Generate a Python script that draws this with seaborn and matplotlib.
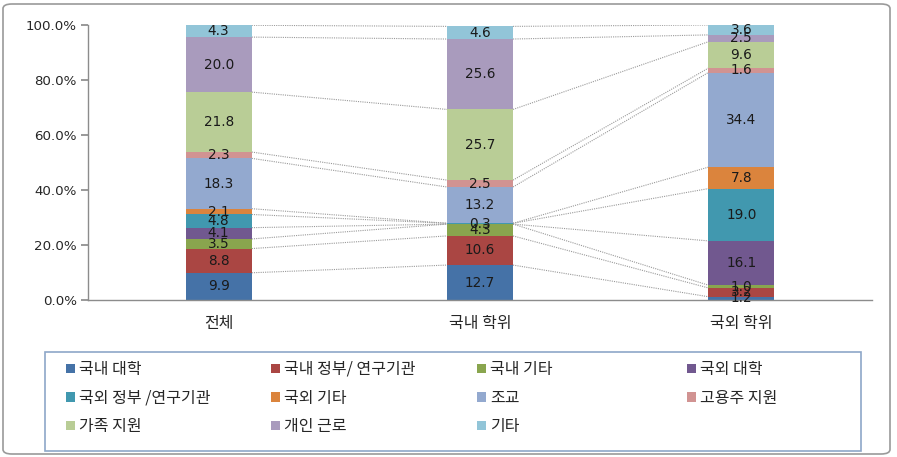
import matplotlib
matplotlib.use("Agg")
import matplotlib.pyplot as plt
import seaborn as sns
import numpy as np
import pandas as pd
from matplotlib.patches import Patch, FancyBboxPatch, Rectangle

categories = ["전체", "국내 학위", "국외 학위"]
series_names = ["국내 대학", "국내 정부/ 연구기관", "국내 기타", "국외 대학",
                "국외 정부 /연구기관", "국외 기타", "조교", "고용주 지원",
                "가족 지원", "개인 근로", "기타"]
s_dom_univ = [9.9, 12.7, 1.2]
s_dom_gov = [8.8, 10.6, 3.2]
s_dom_etc = [3.5, 4.3, 1.0]
s_for_univ = [4.1, 0.0, 16.1]
s_for_gov = [4.8, 0.3, 19.0]
s_for_etc = [2.1, 0.0, 7.8]
s_ta = [18.3, 13.2, 34.4]
s_employer = [2.3, 2.5, 1.6]
s_family = [21.8, 25.7, 9.6]
s_work = [20.0, 25.6, 2.5]
s_other = [4.3, 4.6, 3.6]
series_values = [s_dom_univ, s_dom_gov, s_dom_etc, s_for_univ, s_for_gov,
                 s_for_etc, s_ta, s_employer, s_family, s_work, s_other]
ytick_labels = ["0.0%", "20.0%", "40.0%", "60.0%", "80.0%", "100.0%"]

colors = ["#4572A7", "#AA4643", "#89A54E", "#71588F", "#4198AF", "#DB843D",
          "#93A9CF", "#D19392", "#B9CD96", "#A99BBD", "#92C5D8"]

sns.set_theme(style="white")
plt.rcParams['font.family'] = ['Noto Sans CJK KR', 'DejaVu Sans']

W, H = 897, 457
fig = plt.figure(figsize=(W/100, H/100), dpi=100)
ax = fig.add_axes([88/W, 1-300/H, (872-88)/W, (300-25)/H])

bar_w = 0.253
bottoms = np.zeros(len(categories))
cums = [bottoms.copy()]
for name, vals, col in zip(series_names, series_values, colors):
    df = pd.DataFrame({"cat": categories, "val": vals})
    sns.barplot(data=df, x="cat", y="val", order=categories, color=col,
                width=bar_w, bottom=bottoms.copy(), ax=ax, linewidth=0,
                saturation=1)
    v = np.array(vals)
    for i in range(len(categories)):
        if v[i] > 0:
            ax.text(i, bottoms[i] + v[i]/2, f"{v[i]:.1f}", ha="center",
                    va="center", fontsize=9.8, color="#1a1a1a",
                    family=['DejaVu Sans'])
    bottoms = bottoms + v
    cums.append(bottoms.copy())

# series lines
for k in range(1, len(cums)):
    c = cums[k]
    for i in range(len(categories) - 1):
        ax.plot([i + bar_w/2, i + 1 - bar_w/2], [c[i], c[i+1]],
                color="#9a9a9a", linestyle=(0, (1, 1)), linewidth=0.8,
                zorder=0)

ax.set_xlim(-0.5, 2.5)
ax.set_ylim(0, 100)
ax.set_yticks([0, 20, 40, 60, 80, 100])
ax.set_yticklabels(ytick_labels, fontsize=9.6, family=['DejaVu Sans'])
ax.set_xticks(range(3))
ax.set_xticklabels(categories, fontsize=11.5)
ax.set_xlabel("")
ax.set_ylabel("")
for sp in ["top", "right"]:
    ax.spines[sp].set_visible(False)
for sp in ["left", "bottom"]:
    ax.spines[sp].set_color("#8c8c8c")
    ax.spines[sp].set_linewidth(1.0)
ax.tick_params(axis="y", length=5, color="#8c8c8c", left=True, pad=3)
ax.tick_params(axis="x", length=0, pad=11)

# legend: 4 evenly spaced columns, row-major order
col_x = [66, 271, 477, 687]
ncol = 4
for c in range(ncol):
    idx = list(range(c, len(series_names), ncol))
    hs = [Patch(facecolor=colors[j], edgecolor="none") for j in idx]
    ls = [series_names[j] for j in idx]
    fig.legend(hs, ls, loc="upper left",
               bbox_to_anchor=(col_x[c]/W, 1-361/H),
               fontsize=11.5, frameon=False, handlelength=0.55,
               handleheight=0.55, handletextpad=0.25, borderaxespad=0,
               borderpad=0, labelspacing=0.72)
fig.patches.append(Rectangle((45/W, 1-451/H), 816/W, 99/H,
                             transform=fig.transFigure, fill=False,
                             edgecolor="#8EA7C8", linewidth=1.2))

border = FancyBboxPatch((3/W, 3/H), 887/W, 450/H,
                        boxstyle="round,pad=0,rounding_size=0.01",
                        transform=fig.transFigure, fill=False,
                        edgecolor="#9a9a9a", linewidth=1.2)
fig.patches.append(border)

fig.savefig("out.png", dpi=100)
